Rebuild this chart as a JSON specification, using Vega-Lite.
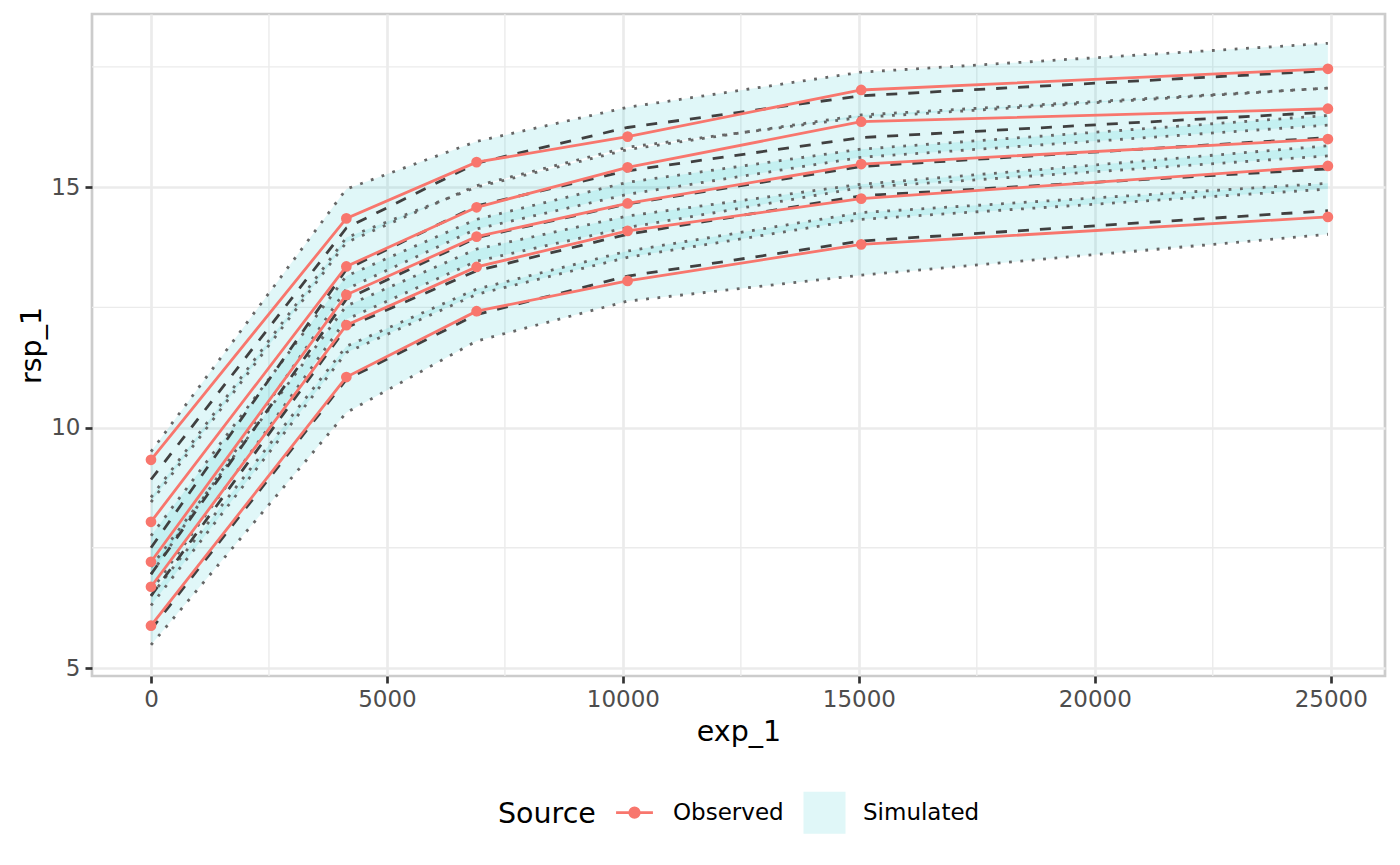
{
  "$schema": "https://vega.github.io/schema/vega-lite/v6.json",
  "width": 1293,
  "height": 662,
  "autosize": "none",
  "padding": {"left": 92, "top": 14, "right": 15, "bottom": 189},
  "background": "white",
  "datasets": {
    "sim": [
      {"grp": 1, "x": 0, "lo": 8.45, "med": 8.92, "hi": 9.5},
      {"grp": 1, "x": 4140, "lo": 13.85, "med": 14.15, "hi": 14.96},
      {"grp": 1, "x": 6900, "lo": 15.03, "med": 15.5, "hi": 15.95},
      {"grp": 1, "x": 10100, "lo": 15.83, "med": 16.24, "hi": 16.66},
      {"grp": 1, "x": 15050, "lo": 16.45, "med": 16.9, "hi": 17.39},
      {"grp": 1, "x": 24940, "lo": 17.06, "med": 17.42, "hi": 17.99},
      {"grp": 2, "x": 0, "lo": 6.95, "med": 7.5, "hi": 8.55},
      {"grp": 2, "x": 4140, "lo": 12.88, "med": 13.29, "hi": 13.95},
      {"grp": 2, "x": 6900, "lo": 14.13, "med": 14.61, "hi": 15.0},
      {"grp": 2, "x": 10100, "lo": 14.85, "med": 15.34, "hi": 15.78},
      {"grp": 2, "x": 15050, "lo": 15.62, "med": 16.03, "hi": 16.5},
      {"grp": 2, "x": 24940, "lo": 16.29, "med": 16.56, "hi": 17.06},
      {"grp": 3, "x": 0, "lo": 6.6, "med": 6.95, "hi": 7.75},
      {"grp": 3, "x": 4140, "lo": 12.25, "med": 12.67, "hi": 13.15},
      {"grp": 3, "x": 6900, "lo": 13.46, "med": 13.95, "hi": 14.33},
      {"grp": 3, "x": 10100, "lo": 14.16, "med": 14.65, "hi": 15.1},
      {"grp": 3, "x": 15050, "lo": 14.99, "med": 15.43, "hi": 15.79},
      {"grp": 3, "x": 24940, "lo": 15.65, "med": 16.03, "hi": 16.49},
      {"grp": 4, "x": 0, "lo": 6.3, "med": 6.5, "hi": 7.1},
      {"grp": 4, "x": 4140, "lo": 11.56, "med": 12.08, "hi": 12.53},
      {"grp": 4, "x": 6900, "lo": 12.77, "med": 13.26, "hi": 13.71},
      {"grp": 4, "x": 10100, "lo": 13.54, "med": 14.02, "hi": 14.4},
      {"grp": 4, "x": 15050, "lo": 14.33, "med": 14.82, "hi": 15.06},
      {"grp": 4, "x": 24940, "lo": 14.96, "med": 15.38, "hi": 15.86},
      {"grp": 5, "x": 0, "lo": 5.48, "med": 5.8, "hi": 6.5},
      {"grp": 5, "x": 4140, "lo": 10.31, "med": 11.0, "hi": 11.69},
      {"grp": 5, "x": 6900, "lo": 11.8, "med": 12.35, "hi": 12.88},
      {"grp": 5, "x": 10100, "lo": 12.63, "med": 13.15, "hi": 13.67},
      {"grp": 5, "x": 15050, "lo": 13.17, "med": 13.88, "hi": 14.47},
      {"grp": 5, "x": 24940, "lo": 14.02, "med": 14.51, "hi": 15.08}
    ],
    "obs": [
      {"grp": 1, "x": 0, "y": 9.33, "source": "Observed"},
      {"grp": 1, "x": 4140, "y": 14.35, "source": "Observed"},
      {"grp": 1, "x": 6900, "y": 15.52, "source": "Observed"},
      {"grp": 1, "x": 10100, "y": 16.05, "source": "Observed"},
      {"grp": 1, "x": 15050, "y": 17.02, "source": "Observed"},
      {"grp": 1, "x": 24940, "y": 17.46, "source": "Observed"},
      {"grp": 2, "x": 0, "y": 8.04, "source": "Observed"},
      {"grp": 2, "x": 4140, "y": 13.35, "source": "Observed"},
      {"grp": 2, "x": 6900, "y": 14.58, "source": "Observed"},
      {"grp": 2, "x": 10100, "y": 15.41, "source": "Observed"},
      {"grp": 2, "x": 15050, "y": 16.36, "source": "Observed"},
      {"grp": 2, "x": 24940, "y": 16.63, "source": "Observed"},
      {"grp": 3, "x": 0, "y": 7.21, "source": "Observed"},
      {"grp": 3, "x": 4140, "y": 12.76, "source": "Observed"},
      {"grp": 3, "x": 6900, "y": 13.97, "source": "Observed"},
      {"grp": 3, "x": 10100, "y": 14.66, "source": "Observed"},
      {"grp": 3, "x": 15050, "y": 15.48, "source": "Observed"},
      {"grp": 3, "x": 24940, "y": 16.0, "source": "Observed"},
      {"grp": 4, "x": 0, "y": 6.69, "source": "Observed"},
      {"grp": 4, "x": 4140, "y": 12.13, "source": "Observed"},
      {"grp": 4, "x": 6900, "y": 13.34, "source": "Observed"},
      {"grp": 4, "x": 10100, "y": 14.09, "source": "Observed"},
      {"grp": 4, "x": 15050, "y": 14.76, "source": "Observed"},
      {"grp": 4, "x": 24940, "y": 15.44, "source": "Observed"},
      {"grp": 5, "x": 0, "y": 5.88, "source": "Observed"},
      {"grp": 5, "x": 4140, "y": 11.05, "source": "Observed"},
      {"grp": 5, "x": 6900, "y": 12.42, "source": "Observed"},
      {"grp": 5, "x": 10100, "y": 13.05, "source": "Observed"},
      {"grp": 5, "x": 15050, "y": 13.81, "source": "Observed"},
      {"grp": 5, "x": 24940, "y": 14.38, "source": "Observed"}
    ],
    "minorx": [{"v": 2500}, {"v": 7500}, {"v": 12500}, {"v": 17500}, {"v": 22500}],
    "minory": [{"v": 7.5}, {"v": 12.5}, {"v": 17.5}]
  },
  "layer": [
    {
      "data": {"name": "minorx"},
      "mark": {"type": "rule", "color": "#EBEBEB", "strokeWidth": 1.4},
      "encoding": {"x": {"field": "v", "type": "quantitative", "scale": {"domain": [-1250, 26150], "nice": false, "zero": false}}}
    },
    {
      "data": {"name": "minory"},
      "mark": {"type": "rule", "color": "#EBEBEB", "strokeWidth": 1.4},
      "encoding": {"y": {"field": "v", "type": "quantitative", "scale": {"domain": [4.834, 18.6], "nice": false, "zero": false}}}
    },
    {
      "data": {"name": "sim"},
      "mark": {"type": "area", "color": "#00BFC4", "opacity": 0.12},
      "encoding": {
        "x": {"field": "x", "type": "quantitative"},
        "y": {"field": "lo", "type": "quantitative"},
        "y2": {"field": "hi"},
        "detail": {"field": "grp"}
      }
    },
    {
      "data": {"name": "sim"},
      "mark": {"type": "line", "color": "#666666", "strokeWidth": 2.8, "strokeDash": [2.8, 8.6]},
      "encoding": {
        "x": {"field": "x", "type": "quantitative"},
        "y": {"field": "lo", "type": "quantitative"},
        "detail": {"field": "grp"}
      }
    },
    {
      "data": {"name": "sim"},
      "mark": {"type": "line", "color": "#666666", "strokeWidth": 2.8, "strokeDash": [2.8, 8.6]},
      "encoding": {
        "x": {"field": "x", "type": "quantitative"},
        "y": {"field": "hi", "type": "quantitative"},
        "detail": {"field": "grp"}
      }
    },
    {
      "data": {"name": "sim"},
      "mark": {"type": "line", "color": "#404040", "strokeWidth": 2.8, "strokeDash": [11, 11]},
      "encoding": {
        "x": {"field": "x", "type": "quantitative"},
        "y": {"field": "med", "type": "quantitative"},
        "detail": {"field": "grp"}
      }
    },
    {
      "data": {"name": "obs"},
      "mark": {"type": "line", "strokeWidth": 2.8},
      "encoding": {
        "x": {"field": "x", "type": "quantitative", "title": "exp_1",
          "axis": {"values": [0, 5000, 10000, 15000, 20000, 25000], "format": "d"}},
        "y": {"field": "y", "type": "quantitative", "title": "rsp_1",
          "axis": {"values": [5, 10, 15]}},
        "detail": {"field": "grp"},
        "color": {
          "field": "source", "type": "nominal", "title": "Source",
          "scale": {"domain": ["Observed", "Simulated"], "range": ["#F8766D", "#E0F7F8"]},
          "legend": {
            "orient": "none",
            "legendX": 406,
            "legendY": 777,
            "direction": "horizontal",
            "titleOrient": "left",
            "titleAnchor": "middle",
            "titleBaseline": "middle",
            "titlePadding": 17,
            "symbolSize": 1537,
            "symbolStrokeWidth": 2.8,
            "labelOffset": 17,
            "columnPadding": 15,
            "encode": {
              "symbols": {
                "update": {
                  "shape": {"signal": "datum.value === 'Observed' ? 'M0,-1M0,1M-0.94,0H0.94M0.24,0A0.24,0.24 0 1,1 -0.24,0A0.24,0.24 0 1,1 0.24,0Z' : 'M-1,-1H1V1H-1Z'"},
                  "fill": {"signal": "datum.value === 'Observed' ? '#F8766D' : '#E0F7F8'"},
                  "stroke": {"signal": "datum.value === 'Observed' ? '#F8766D' : '#E0F7F8'"},
                  "size": {"value": 1537},
                  "strokeWidth": {"value": 2.8},
                  "opacity": {"value": 1}
                }
              }
            }
          }
        }
      }
    },
    {
      "data": {"name": "obs"},
      "mark": {"type": "point", "filled": true, "size": 115, "opacity": 1, "color": "#F8766D"},
      "encoding": {
        "x": {"field": "x", "type": "quantitative"},
        "y": {"field": "y", "type": "quantitative"}
      }
    }
  ],
  "config": {
    "font": "DejaVu Sans",
    "view": {"stroke": "#CCCCCC", "strokeWidth": 2.7},
    "axis": {
      "domain": false,
      "grid": true,
      "gridColor": "#EBEBEB",
      "gridWidth": 2.7,
      "tickColor": "#333333",
      "tickWidth": 2.7,
      "tickSize": 7,
      "labelFont": "DejaVu Sans",
      "labelFontSize": 23,
      "labelColor": "#4D4D4D",
      "labelPadding": 5,
      "titleFont": "DejaVu Sans",
      "titleFontSize": 28.5,
      "titleFontWeight": "normal",
      "titleColor": "#000000"
    },
    "axisX": {"titlePadding": 6},
    "axisY": {"titlePadding": 4},
    "legend": {
      "labelFont": "DejaVu Sans",
      "labelFontSize": 23,
      "labelColor": "#000000",
      "titleFont": "DejaVu Sans",
      "titleFontSize": 28.5,
      "titleFontWeight": "normal",
      "titleColor": "#000000"
    }
  }
}
